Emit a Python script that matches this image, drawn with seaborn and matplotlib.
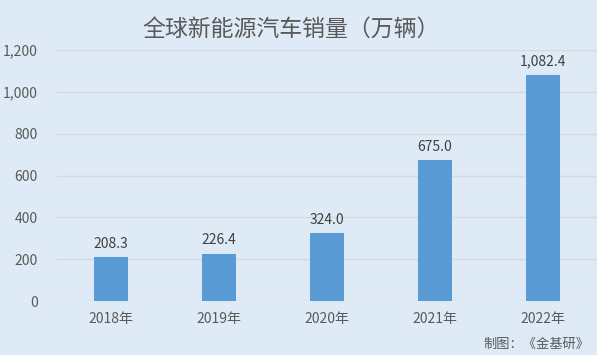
import numpy as np
import pandas as pd
import seaborn as sns
import matplotlib.pyplot as plt
from matplotlib.ticker import FuncFormatter

# data
years = ['2018年', '2019年', '2020年', '2021年', '2022年']
sales = [208.3, 226.4, 324.0, 675.0, 1082.4]
title = '全球新能源汽车销量（万辆）'
source = '制图：《金基研》'

bg = '#DEEAF6'
bar_color = '#5B9BD5'
text_color = '#595959'

sns.set_theme(style='white')
plt.rcParams['font.family'] = ['Noto Sans CJK SC', 'DejaVu Sans']

df = pd.DataFrame({'year': years, 'sales': sales})

fig = plt.figure(figsize=(5.97, 3.55), dpi=100, facecolor=bg)
ax = fig.add_axes([0.0955, 0.152, 0.9045, 0.707])
ax.set_facecolor(bg)

sns.barplot(data=df, x='year', y='sales', color=bar_color, width=0.31,
            saturation=1, linewidth=0, ax=ax, zorder=3)

ax.set_ylim(0, 1200)
ax.set_xlim(-0.5, 4.5)
ax.set_yticks(np.arange(0, 1201, 200))
ax.yaxis.set_major_formatter(FuncFormatter(lambda v, p: f'{int(v):,}'))
ax.grid(axis='y', color='#D9D9D9', linewidth=1, zorder=0)
for s in ax.spines.values():
    s.set_visible(False)
ax.set_xlabel('')
ax.set_ylabel('')
ax.tick_params(axis='both', length=0, labelsize=10, labelcolor=text_color)
ax.tick_params(axis='y', pad=14)
ax.tick_params(axis='x', pad=8)

for i, v in enumerate(sales):
    ax.text(i, v + 30, f'{v:,.1f}', ha='center', va='bottom',
            fontsize=10, color='#404040')

fig.text(0.487, 0.917, title, ha='center', va='center', fontsize=16.5,
         color=text_color, fontweight='light')
fig.text(0.988, 0.03, source, ha='right', va='center', fontsize=9.5, color=text_color)

fig.savefig('out.png', dpi=100, facecolor=bg)
